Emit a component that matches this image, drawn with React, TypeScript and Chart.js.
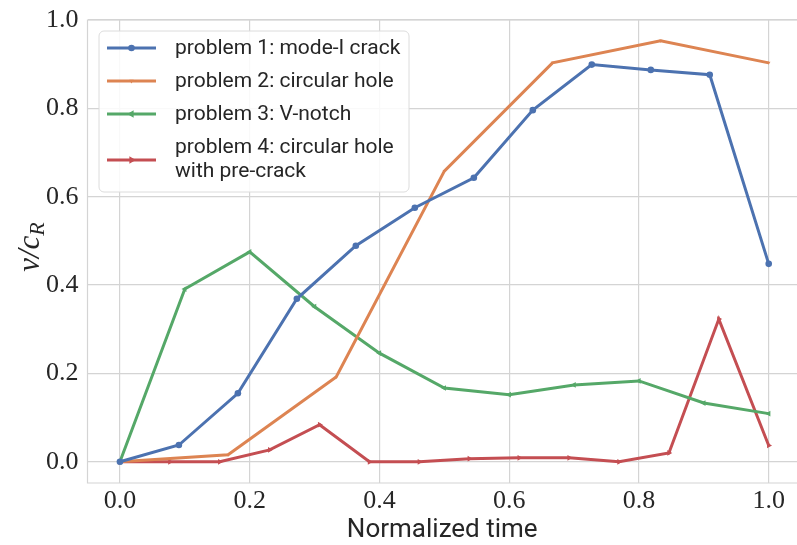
import React, { useEffect, useRef } from "react";
import { Chart, registerables } from "chart.js";

Chart.register(...registerables);

const xTicks = [0.0, 0.2, 0.4, 0.6, 0.8, 1.0];
const yTicks = [0.0, 0.2, 0.4, 0.6, 0.8, 1.0];

const p1Label = "problem 1: mode-I crack";
const p1X = [0, 0.0909, 0.1818, 0.2727, 0.3636, 0.4545, 0.5455, 0.6364, 0.7273, 0.8182, 0.9091, 1.0];
const p1Y = [0, 0.038, 0.155, 0.369, 0.489, 0.575, 0.643, 0.796, 0.899, 0.887, 0.876, 0.448];

const p2Label = "problem 2: circular hole";
const p2X = [0, 0.1667, 0.3333, 0.5, 0.6667, 0.8333, 1.0];
const p2Y = [0, 0.016, 0.192, 0.658, 0.903, 0.953, 0.903];

const p3Label = "problem 3: V-notch";
const p3X = [0, 0.1, 0.2, 0.3, 0.4, 0.5, 0.6, 0.7, 0.8, 0.9, 1.0];
const p3Y = [0, 0.391, 0.475, 0.351, 0.246, 0.167, 0.152, 0.174, 0.183, 0.133, 0.109];

const p4Label = ["problem 4: circular hole", "with pre-crack"];
const p4X = [0, 0.0769, 0.1538, 0.2308, 0.3077, 0.3846, 0.4615, 0.5385, 0.6154, 0.6923, 0.7692, 0.8462, 0.9231, 1.0];
const p4Y = [0, 0, 0, 0.027, 0.084, 0, 0, 0.007, 0.009, 0.009, 0, 0.02, 0.323, 0.037];

const COLORS = ["#4C72B0", "#DD8452", "#55A868", "#C44E52"];
const TEXT = "#262626";
const GRID = "#d4d4d4";
const SERIF = "'Liberation Serif', 'DejaVu Serif', serif";
const SANS = "Roboto, 'Noto Sans', sans-serif";
const W = 797;
const H = 545;

const pts = (xs: number[], ys: number[]) => xs.map((x, i) => ({ x, y: ys[i] }));

const legendLabels: (string | string[])[] = [p1Label, p2Label, p3Label, p4Label];

const framePlugin = {
  id: "frame",
  afterLayout(chart: any) {
    const ca = chart.chartArea;
    const xs = chart.scales.x;
    ca.right = W;
    ca.width = ca.right - ca.left;
    xs.right = W;
    xs.width = xs.right - xs.left;
    xs.configure();
  },
  beforeDatasetsDraw(chart: any) {
    const { ctx, chartArea } = chart;
    ctx.save();
    ctx.strokeStyle = GRID;
    ctx.lineWidth = 1.2;
    ctx.beginPath();
    ctx.moveTo(chartArea.right + 5, chartArea.top);
    ctx.lineTo(chartArea.left, chartArea.top);
    ctx.lineTo(chartArea.left, chartArea.bottom);
    ctx.lineTo(chartArea.right + 5, chartArea.bottom);
    ctx.stroke();
    ctx.restore();
  },
  afterDraw(chart: any) {
    const { ctx } = chart;
    // y-axis label v/c_R
    ctx.save();
    ctx.translate(30, 247);
    ctx.rotate(-Math.PI / 2);
    ctx.fillStyle = TEXT;
    ctx.textBaseline = "alphabetic";
    ctx.font = `italic 31px ${SERIF}`;
    const main = "v/c";
    const mainW = ctx.measureText(main).width;
    ctx.font = `italic 22px ${SERIF}`;
    const subW = ctx.measureText("R").width;
    const total = mainW + subW;
    ctx.font = `italic 31px ${SERIF}`;
    ctx.textAlign = "left";
    ctx.fillText(main, -total / 2, 9);
    ctx.font = `italic 22px ${SERIF}`;
    ctx.fillText("R", -total / 2 + mainW, 14);
    ctx.restore();

    // legend
    ctx.save();
    const bx = 99, by = 31, bw = 310, bh = 161, r = 5;
    ctx.beginPath();
    ctx.moveTo(bx + r, by);
    ctx.arcTo(bx + bw, by, bx + bw, by + bh, r);
    ctx.arcTo(bx + bw, by + bh, bx, by + bh, r);
    ctx.arcTo(bx, by + bh, bx, by, r);
    ctx.arcTo(bx, by, bx + bw, by, r);
    ctx.closePath();
    ctx.fillStyle = "rgba(255,255,255,0.85)";
    ctx.fill();
    ctx.strokeStyle = "#dcdcdc";
    ctx.lineWidth = 1;
    ctx.stroke();

    const rows = [48, 81, 114, 160];
    ctx.font = `21px ${SANS}`;
    ctx.textBaseline = "middle";
    ctx.textAlign = "left";
    chart.data.datasets.forEach((ds: any, i: number) => {
      const y = rows[i];
      ctx.strokeStyle = ds.borderColor;
      ctx.lineWidth = 3;
      ctx.beginPath();
      ctx.moveTo(107, y);
      ctx.lineTo(156, y);
      ctx.stroke();
      ctx.save();
      ctx.translate(131.5, y);
      ctx.rotate(((ds.pointRotation || 0) * Math.PI) / 180);
      ctx.fillStyle = ds.borderColor;
      const rad = ds.pointRadius;
      ctx.beginPath();
      if (ds.pointStyle === "circle") {
        ctx.arc(0, 0, rad, 0, Math.PI * 2);
      } else {
        const s = rad * 1.3;
        ctx.moveTo(0, -s);
        ctx.lineTo(s * 0.87, s * 0.5);
        ctx.lineTo(-s * 0.87, s * 0.5);
        ctx.closePath();
      }
      ctx.fill();
      ctx.restore();
      ctx.fillStyle = TEXT;
      const lab = legendLabels[i];
      if (Array.isArray(lab)) {
        ctx.fillText(lab[0], 175, 148);
        ctx.fillText(lab[1], 175, 172);
      } else {
        ctx.fillText(lab, 175, y + 1);
      }
    });
    ctx.restore();
  },
};

export default function App() {
  const ref = useRef<HTMLCanvasElement | null>(null);
  useEffect(() => {
    document.body.style.margin = "0";
    if (!ref.current) return;
    const mk = (label: any, xs: number[], ys: number[], color: string, style: string, rot: number, rad: number) => ({
      label,
      data: pts(xs, ys),
      borderColor: color,
      backgroundColor: color,
      borderWidth: 3,
      pointStyle: style,
      pointRotation: rot,
      pointRadius: rad,
      pointBorderWidth: 0,
      pointBackgroundColor: color,
      tension: 0,
    });
    const chart = new Chart(ref.current, {
      type: "line",
      data: {
        datasets: [
          mk(p1Label, p1X, p1Y, COLORS[0], "circle", 0, 3.3),
          mk(p2Label, p2X, p2Y, COLORS[1], "triangle", 180, 2),
          mk(p3Label, p3X, p3Y, COLORS[2], "triangle", -90, 3.3),
          mk(p4Label, p4X, p4Y, COLORS[3], "triangle", 90, 3.3),
        ] as any,
      },
      options: {
        animation: false,
        responsive: false,
        layout: { padding: { top: 20, right: 0, left: 0, bottom: 0 } },
        plugins: { legend: { display: false }, tooltip: { enabled: false } },
        scales: {
          x: {
            type: "linear",
            min: -0.05,
            max: 1.0436,
            afterFit: (s: any) => { s.height = 62; s.paddingLeft = 0; s.paddingRight = 0; },
            afterBuildTicks: (s: any) => { s.ticks = xTicks.map((v) => ({ value: v })); },
            ticks: { color: TEXT, font: { family: SERIF, size: 26 }, padding: 3, callback: (v: any) => Number(v).toFixed(1), maxRotation: 0, autoSkip: false },
            grid: { color: GRID, lineWidth: 1.2, drawTicks: false },
            border: { display: false },
            title: { display: true, text: "Normalized time", color: TEXT, font: { family: SANS, size: 26, lineHeight: 1.1 }, padding: 0 },
          },
          y: {
            type: "linear",
            min: -0.048,
            max: 1.0,
            afterFit: (s: any) => { s.width = 87.5; s.paddingTop = 0; s.paddingBottom = 0; },
            afterBuildTicks: (s: any) => { s.ticks = yTicks.map((v) => ({ value: v })); },
            ticks: { color: TEXT, font: { family: SERIF, size: 26 }, padding: 9, callback: (v: any) => Number(v).toFixed(1), autoSkip: false },
            grid: { color: GRID, lineWidth: 1.2, drawTicks: false },
            border: { display: false },
          },
        },
      } as any,
      plugins: [framePlugin],
    });
    return () => chart.destroy();
  }, []);
  return (
    <div style={{ width: W, height: H }}>
      <canvas ref={ref} width={W} height={H} style={{ display: "block" }} />
    </div>
  );
}
